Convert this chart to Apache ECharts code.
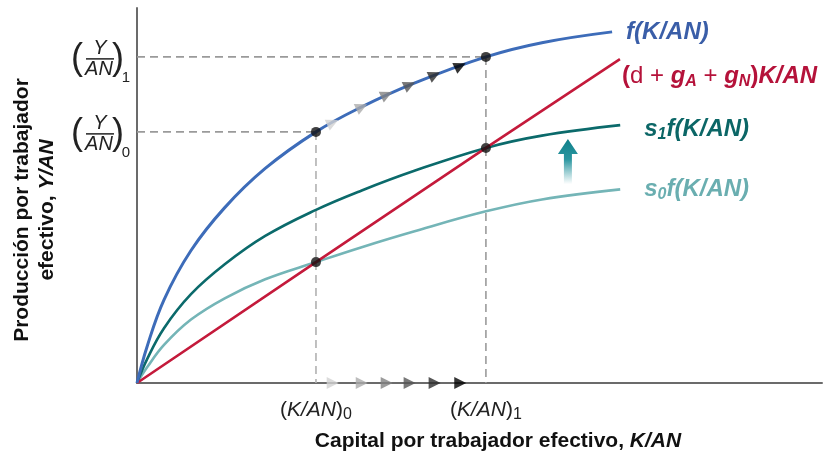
<!DOCTYPE html>
<html><head><meta charset="utf-8">
<script src="https://cdn.jsdelivr.net/npm/echarts@6/dist/echarts.min.js"></script>
<style>html,body{margin:0;padding:0;background:#fff}#c{width:825px;height:454px}</style>
</head><body><div id="c"></div>
<script>
// ---- data (axis units: capital per effective worker / output per effective worker)
const fCurve  = [[0,0],[1.5,9.8],[4,22.3],[8,35.5],[13,47.0],[19,57.5],[26.52,67.3],[33.3,74.0],[41,80.3],[51.7,87.4],[60,91.2],[70.4,94.1]];
const s1Curve = [[0,0],[1.5,6.4],[4,14.7],[8,23.8],[13,31.8],[19,39.4],[26.52,46.4],[33.3,51.6],[41,56.8],[51.7,63.0],[60,66.3],[71.6,69.1]];
const s0Curve = [[0,0],[1.5,4.2],[4,10.2],[8,17.0],[13,22.7],[19,27.8],[26.52,32.4],[33.3,36.4],[41,40.6],[51.7,46.0],[60,49.2],[71.6,51.9]];
const depLine = [[0,0],[26.52,32.4],[51.7,63.0],[71.56,86.8]];
const kSteady = [26.52, 51.7];        // (K/AN)0, (K/AN)1
const ySteady = [67.3, 87.4];         // (Y/AN)0, (Y/AN)1
const invSteady = [32.4, 63.0];       // investment = depreciation at steady states
const kSubs = ['0', '1'];
const ySubs = ['0', '1'];
const transK = [29.0, 33.3, 37.0, 40.4, 44.1, 47.9];
const transY = [69.8, 74.0, 77.3, 79.9, 82.6, 85.0];
const arrowK = 63.85, arrowTop = 65.4, arrowBottom = 53.3;

const FONT = 'Liberation Sans, Arial, Helvetica, sans-serif';
const BLUE = '#3d6cb9', RED = '#c41a3b', TEAL = '#0b6a6b', LTEAL = '#74b5b7';
const ramp = ['#d2d2d2', '#ababab', '#828282', '#565656', '#2c2c2c', '#000000'];

const chart = echarts.init(document.getElementById('c'), null, {renderer: 'canvas'});

function dash(a, b, color) {
  return {type: 'line', data: [a, b], symbol: 'none', silent: true, z: 1,
    lineStyle: {color: color, width: 1.6, type: [8, 5]}};
}
const subStyle = (c) => ({fontFamily: FONT, fontSize: 16, fontWeight: 'bold', fontStyle: 'italic', color: c, verticalAlign: 'bottom', padding: [10, 0, 0, 0]});
const ital = (c) => ({fontFamily: FONT, fontSize: 24, fontWeight: 'bold', fontStyle: 'italic', color: c});

const option = {
  animation: false,
  grid: {left: 137, right: 3, top: 8, bottom: 71},
  xAxis: {
    type: 'value', min: 0, max: 101.5,
    axisLine: {lineStyle: {color: '#6b6b6b', width: 2}},
    axisTick: {show: false}, splitLine: {show: false},
    axisLabel: {
      customValues: kSteady, margin: 14,
      formatter: (v) => { const i = kSteady.indexOf(v); return '{p|(}{i|K/AN}{p|)}{s|' + kSubs[i] + '}'; },
      rich: {
        p: {fontFamily: FONT, fontSize: 21, color: '#222'},
        i: {fontFamily: FONT, fontSize: 21, fontStyle: 'italic', color: '#222'},
        s: {fontFamily: FONT, fontSize: 16, color: '#222', verticalAlign: 'bottom', padding: [10, 0, 0, 0]}
      }
    }
  },
  yAxis: {
    type: 'value', min: 0, max: 100.5,
    axisLine: {lineStyle: {color: '#6b6b6b', width: 2}},
    axisTick: {show: false}, splitLine: {show: false}, axisLabel: {show: false}
  },
  series: [
    dash([0, ySteady[1]], [kSteady[1], ySteady[1]], '#9a9a9a'),
    dash([kSteady[1], ySteady[1]], [kSteady[1], 0], '#9a9a9a'),
    dash([0, ySteady[0]], [kSteady[0], ySteady[0]], '#9a9a9a'),
    dash([kSteady[0], ySteady[0]], [kSteady[0], 0], '#b0b0b0'),
    {type: 'line', name: 's0f', data: s0Curve, smooth: 0.4, symbol: 'none', z: 2,
      lineStyle: {color: LTEAL, width: 2.6},
      endLabel: {show: true, offset: [16, 0], formatter: '{i|s}{s|0}{i|f(K/AN)}',
        rich: {i: ital('#6aaeb0'), s: subStyle('#6aaeb0')}}},
    {type: 'line', name: 's1f', data: s1Curve, smooth: 0.4, symbol: 'none', z: 2,
      lineStyle: {color: TEAL, width: 2.6},
      endLabel: {show: true, offset: [16, 4], formatter: '{i|s}{s|1}{i|f(K/AN)}',
        rich: {i: ital('#0b6666'), s: subStyle('#0b6666')}}},
    {type: 'line', name: 'dep', data: depLine, symbol: 'none', z: 3,
      lineStyle: {color: RED, width: 2.6},
      endLabel: {show: true, offset: [-6, 17],
        formatter: '{p|(}{n|d + }{i|g}{s|A}{n| + }{i|g}{s|N}{p|)}{i|K/AN}',
        rich: {
          p: {fontFamily: FONT, fontSize: 24, fontWeight: 'bold', color: '#b5123a'},
          n: {fontFamily: FONT, fontSize: 24, color: '#b5123a'},
          i: ital('#b5123a'), s: subStyle('#b5123a')
        }}},
    {type: 'line', name: 'f', data: fCurve, smooth: 0.4, symbol: 'none', z: 4,
      lineStyle: {color: BLUE, width: 3},
      endLabel: {show: true, offset: [6, 0], formatter: '{i|f(K/AN)}',
        rich: {i: ital('#3a5ea8')}}},
    {type: 'scatter', data: transK.map((k, i) => [k, transY[i]]), symbol: 'triangle',
      symbolSize: 12, symbolRotate: -65, z: 5, clip: false,
      itemStyle: {color: (p) => ramp[p.dataIndex]}},
    {type: 'scatter', data: transK.map((k) => [k, 0]), symbol: 'triangle',
      symbolSize: 12, symbolRotate: -90, z: 5, clip: false,
      itemStyle: {color: (p) => ramp[p.dataIndex]}},
    {type: 'scatter', data: [[kSteady[0], ySteady[0]], [kSteady[1], ySteady[1]], [kSteady[0], invSteady[0]], [kSteady[1], invSteady[1]]],
      symbol: 'circle', symbolSize: 10, z: 6, clip: false, itemStyle: {color: '#111'}}
  ]
};
chart.setOption(option);

function fracEls(yPix, sub) {
  const c = '#222';
  return [
    {type: 'text', x: 77, y: yPix + 2, style: {text: '(', font: '36px ' + FONT, fill: c, align: 'center', verticalAlign: 'middle'}},
    {type: 'text', x: 100, y: yPix - 8, style: {text: 'Y', font: 'italic 20px ' + FONT, fill: c, align: 'center', verticalAlign: 'middle'}},
    {type: 'line', shape: {x1: 86, y1: yPix + 2, x2: 114, y2: yPix + 2}, style: {stroke: c, lineWidth: 1.5}},
    {type: 'text', x: 99, y: yPix + 13, style: {text: 'AN', font: 'italic 20px ' + FONT, fill: c, align: 'center', verticalAlign: 'middle'}},
    {type: 'text', x: 118, y: yPix + 2, style: {text: ')', font: '36px ' + FONT, fill: c, align: 'center', verticalAlign: 'middle'}},
    {type: 'text', x: 126, y: yPix + 21, style: {text: sub, font: '15px ' + FONT, fill: c, align: 'center', verticalAlign: 'middle'}}
  ];
}
const graphics = [];
ySteady.forEach((v, i) => {
  const yp = chart.convertToPixel({yAxisIndex: 0}, v);
  fracEls(yp, ySubs[i]).forEach(e => graphics.push(e));
});
// axis titles
graphics.push({type: 'text', x: 22, y: 210, rotation: Math.PI / 2,
  style: {text: 'Producción por trabajador', font: 'bold 21px ' + FONT, fill: '#111', align: 'center', verticalAlign: 'middle'}});
graphics.push({type: 'text', x: 47, y: 210, rotation: Math.PI / 2,
  style: {text: 'efectivo, {i|Y/AN}', font: 'bold 21px ' + FONT, fill: '#111', align: 'center', verticalAlign: 'middle',
    rich: {i: {fontFamily: FONT, fontSize: 21, fontWeight: 'bold', fontStyle: 'italic', fill: '#111', color: '#111'}}}});
graphics.push({type: 'text', x: 498, y: 441,
  style: {text: 'Capital por trabajador efectivo, {i|K/AN}', font: 'bold 21px ' + FONT, fill: '#111', align: 'center', verticalAlign: 'middle',
    rich: {i: {fontFamily: FONT, fontSize: 21, fontWeight: 'bold', fontStyle: 'italic', fill: '#111', color: '#111'}}}});
// shift arrow
const ax = chart.convertToPixel({xAxisIndex: 0}, arrowK);
const at = chart.convertToPixel({yAxisIndex: 0}, arrowTop);
const ab = chart.convertToPixel({yAxisIndex: 0}, arrowBottom);
graphics.push({type: 'polygon',
  shape: {points: [[ax, at], [ax + 10, at + 15], [ax + 4, at + 15], [ax + 4, ab], [ax - 4, ab], [ax - 4, at + 15], [ax - 10, at + 15]]},
  style: {fill: new echarts.graphic.LinearGradient(0, 0, 0, 1, [
    {offset: 0, color: '#10808a'}, {offset: 0.45, color: '#2a96a0'}, {offset: 1, color: 'rgba(255,255,255,0.9)'}])}});
chart.setOption({graphic: graphics});
</script></body></html>
